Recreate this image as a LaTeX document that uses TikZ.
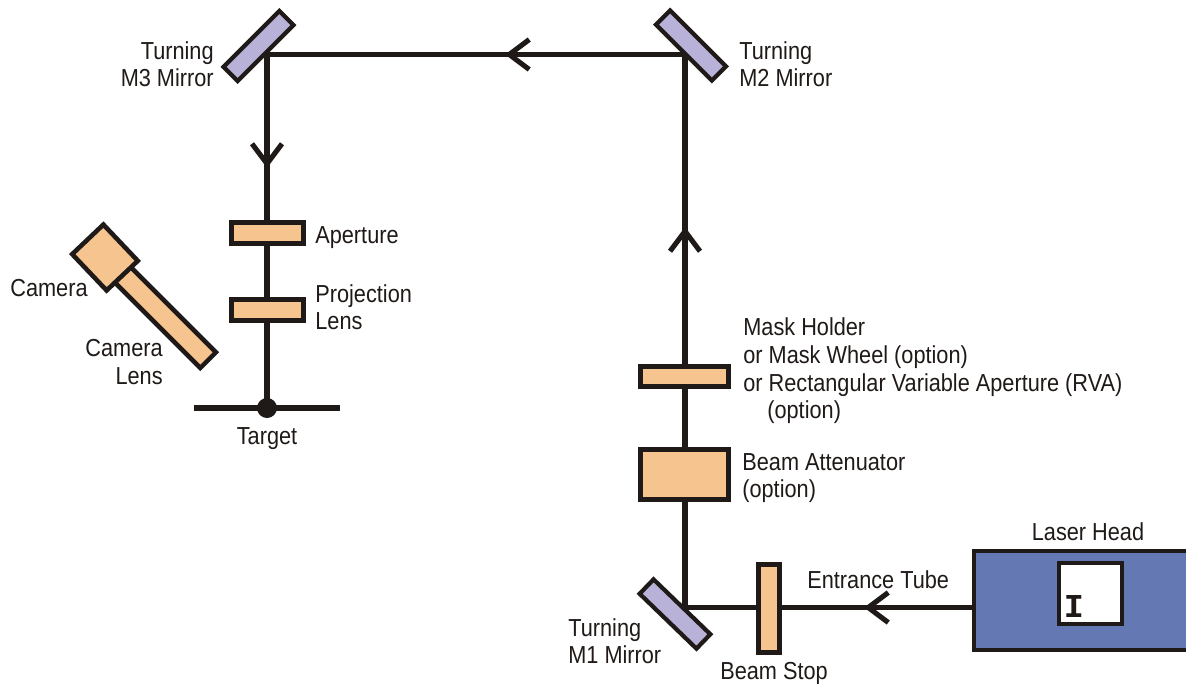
\documentclass[tikz,border=0pt]{standalone}
\usepackage{fontspec}
\setmainfont[FakeStretch=0.883]{Liberation Sans}
\usetikzlibrary{arrows.meta}
\definecolor{inkblack}{HTML}{1F1A17}
\definecolor{partorange}{HTML}{F6C48E}
\definecolor{mirrorlilac}{HTML}{B9B2D8}
\definecolor{laserblue}{HTML}{6479B3}

\begin{document}
\begin{tikzpicture}[x=0.02cm,y=-0.02cm]
\tikzset{
  part/.style={rectangle,draw=inkblack,fill=partorange,line width=2.6pt,inner sep=0pt},
  mirror/.style={rectangle,draw=inkblack,fill=mirrorlilac,line width=2.4pt,inner sep=0pt,minimum width=1.58cm,minimum height=0.40cm},
  beam/.style={draw=inkblack,line width=2.9pt,line cap=butt,line join=miter},
  beamtip/.style={beam,-{Straight Barb[length=4mm,width=6mm,line width=2.9pt]}},
  label/.style={inner sep=0pt,text=inkblack,font=\fontsize{14}{15.7}\selectfont}
}
\useasboundingbox (0,0) rectangle (1186,683);
\clip (0,0) rectangle (1186,683);
\coordinate (n_hit_m1) at (685,607.5);
\coordinate (n_hit_m2) at (685,54.5);
\coordinate (n_hit_m3) at (267,54.5);
\coordinate (n_target) at (267,407);
\coordinate (n_tip_entrance) at (864,607.5);
\coordinate (n_tip_up) at (685,227);
\coordinate (n_tip_top) at (505,54.5);
\coordinate (n_tip_down) at (267,168);
\coordinate (n_target_l) at (194,408);
\coordinate (n_target_r) at (340,408);
% beam path
\draw[beam] (972,607.5) -- (n_tip_entrance);
\draw[beam] (n_hit_m1) -- (n_tip_entrance);
\draw[beam] (n_hit_m1) -- (n_hit_m2) -- (n_hit_m3) -- (n_target);
\draw[beamtip] (895,607.5) -- (n_tip_entrance);
\draw[beamtip] (685,260) -- (n_tip_up);
\draw[beamtip] (540,54.5) -- (n_tip_top);
\draw[beamtip] (267,135) -- (n_tip_down);
% target
\draw[beam] (n_target_l) -- (n_target_r);
\fill[inkblack] (n_target) ++(0,1) circle (0.2cm);
% parts
\node[mirror,rotate=45] (n_m3) at (258.5,46) {};
\node[mirror,rotate=-45] (n_m2) at (691,45.5) {};
\node[mirror,rotate=-44] (n_m1) at (675,614) {};
\node[part,minimum width=1.45cm,minimum height=0.43cm] (n_aperture) at (267.5,233) {};
\node[part,minimum width=1.45cm,minimum height=0.43cm] (n_projection) at (267.5,310) {};
\node[part,minimum width=1.77cm,minimum height=0.41cm] (n_mask) at (684.5,376.5) {};
\node[part,minimum width=1.77cm,minimum height=1.00cm] (n_attenuator) at (684.5,474.5) {};
\node[part,minimum width=0.43cm,minimum height=1.77cm] (n_stop) at (769,608.5) {};
\node[part,rotate=-45,minimum width=2.44cm,minimum height=0.44cm] (n_cam_lens) at (165,317) {};
\node[part,rotate=-46.5,minimum width=1.00cm,minimum height=0.86cm] (n_camera) at (105,257.5) {};
\node[rectangle,draw=inkblack,fill=laserblue,line width=2.6pt,inner sep=0pt,minimum width=4.52cm,minimum height=1.98cm] (n_laser) at (1087,600.5) {};
\node[rectangle,draw=inkblack,fill=white,line width=2.6pt,inner sep=0pt,minimum width=1.26cm,minimum height=1.22cm] (n_window) at (1090.5,593.5) {};
\node[inner sep=0pt,text=inkblack,font=\fontspec{Liberation Mono}\bfseries\fontsize{19}{19}\selectfont] (n_glyph) at (1074,606) {I};
% labels
\node[label,align=right,anchor=east] (l_m3) at (214,64) {Turning\\M3 Mirror};
\node[label,align=left,anchor=west] (l_m2) at (739,64) {Turning\\M2 Mirror};
\node[label,anchor=west] (l_aperture) at (315,238) {Aperture};
\node[label,align=left,anchor=west] (l_projection) at (315,307) {Projection\\Lens};
\node[label,anchor=west] (l_camera) at (10,288.5) {Camera};
\node[label,align=right,anchor=east] (l_cam_lens) at (163,362) {Camera\\Lens};
\node[label,anchor=center] (l_target) at (267,439) {Target};
\node[label,align=left,anchor=west] (l_mask) at (743,371) {Mask Holder\\or Mask Wheel (option)\\or Rectangular Variable Aperture (RVA)\\\hspace*{0.48cm}(option)};
\node[label,align=left,anchor=west] (l_attenuator) at (742,478) {Beam Attenuator\\(option)};
\node[label,anchor=center] (l_laser) at (1088,531.5) {Laser Head};
\node[label,anchor=west] (l_entrance) at (807,579.5) {Entrance Tube};
\node[label,align=left,anchor=west] (l_m1) at (568,641) {Turning\\M1 Mirror};
\node[label,anchor=center] (l_stop) at (774,673) {Beam Stop};
\end{tikzpicture}
\end{document}
